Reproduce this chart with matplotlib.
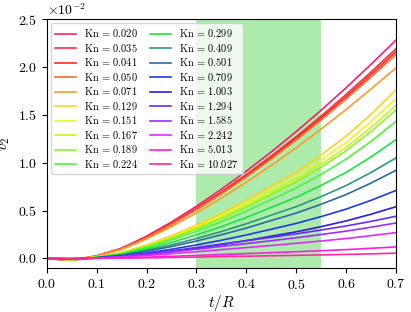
import numpy as np
import matplotlib
matplotlib.use("Agg")
import matplotlib.pyplot as plt

plt.rcParams['font.family'] = 'serif'
plt.rcParams['font.serif'] = ['cmr10']
plt.rcParams['mathtext.fontset'] = 'cm'
plt.rcParams['axes.formatter.use_mathtext'] = True
plt.rcParams['axes.unicode_minus'] = False

# time samples t/R
t = [0.0, 0.05, 0.1, 0.15, 0.2, 0.25, 0.3, 0.35, 0.4, 0.45, 0.5, 0.55, 0.6, 0.65, 0.7]

kn_labels = ["0.020", "0.035", "0.041", "0.050", "0.071", "0.129", "0.151",
             "0.167", "0.189", "0.224", "0.299", "0.409", "0.501", "0.709",
             "1.003", "1.294", "1.585", "2.242", "5.013", "10.027"]

# v2 in units of 1e-2
v2 = [
    [0, -0.020, 0.027, 0.107, 0.233, 0.381, 0.545, 0.723, 0.912, 1.113, 1.325, 1.548, 1.783, 2.027, 2.28],
    [0, -0.020, 0.026, 0.103, 0.223, 0.366, 0.523, 0.694, 0.876, 1.069, 1.272, 1.487, 1.713, 1.947, 2.19],
    [0, -0.019, 0.026, 0.102, 0.220, 0.361, 0.516, 0.685, 0.864, 1.054, 1.255, 1.467, 1.689, 1.920, 2.16],
    [0, -0.019, 0.026, 0.100, 0.217, 0.356, 0.509, 0.675, 0.852, 1.039, 1.238, 1.446, 1.666, 1.894, 2.13],
    [0, -0.018, 0.024, 0.094, 0.203, 0.332, 0.476, 0.631, 0.796, 0.971, 1.156, 1.351, 1.556, 1.769, 1.99],
    [0, -0.014, 0.014, 0.062, 0.141, 0.238, 0.348, 0.472, 0.607, 0.757, 0.906, 1.082, 1.276, 1.505, 1.76],
    [0, -0.013, 0.013, 0.058, 0.134, 0.225, 0.331, 0.448, 0.576, 0.718, 0.860, 1.027, 1.211, 1.428, 1.67],
    [0, -0.013, 0.013, 0.056, 0.128, 0.216, 0.317, 0.429, 0.552, 0.688, 0.824, 0.984, 1.160, 1.368, 1.60],
    [0, -0.012, 0.012, 0.054, 0.124, 0.209, 0.307, 0.415, 0.535, 0.667, 0.798, 0.953, 1.124, 1.325, 1.55],
    [0, -0.011, 0.011, 0.050, 0.114, 0.193, 0.283, 0.383, 0.493, 0.615, 0.736, 0.879, 1.037, 1.223, 1.43],
    [0, -0.010, 0.010, 0.043, 0.099, 0.167, 0.246, 0.332, 0.428, 0.533, 0.639, 0.763, 0.899, 1.060, 1.24],
    [0, -0.008, 0.008, 0.037, 0.084, 0.142, 0.208, 0.281, 0.362, 0.452, 0.541, 0.646, 0.761, 0.898, 1.05],
    [0, -0.007, 0.007, 0.032, 0.074, 0.124, 0.182, 0.247, 0.317, 0.396, 0.474, 0.566, 0.667, 0.787, 0.92],
    [0, -0.006, 0.006, 0.025, 0.057, 0.096, 0.141, 0.190, 0.245, 0.305, 0.366, 0.437, 0.515, 0.607, 0.71],
    [0, -0.004, 0.004, 0.019, 0.043, 0.073, 0.107, 0.145, 0.186, 0.232, 0.278, 0.332, 0.392, 0.462, 0.54],
    [0, -0.004, 0.004, 0.022, 0.048, 0.079, 0.114, 0.150, 0.185, 0.220, 0.257, 0.297, 0.339, 0.387, 0.44],
    [0, -0.004, 0.004, 0.019, 0.041, 0.067, 0.096, 0.126, 0.155, 0.185, 0.216, 0.250, 0.285, 0.326, 0.37],
    [0, -0.003, 0.003, 0.014, 0.030, 0.049, 0.070, 0.092, 0.113, 0.135, 0.158, 0.182, 0.208, 0.238, 0.27],
    [0, -0.001, 0.001, 0.006, 0.013, 0.022, 0.031, 0.041, 0.050, 0.060, 0.070, 0.081, 0.092, 0.106, 0.12],
    [0, -0.001, 0.001, 0.003, 0.006, 0.010, 0.014, 0.019, 0.023, 0.028, 0.032, 0.037, 0.042, 0.048, 0.055],
]

colors = ["#ff1a6e", "#ff2a45", "#ff2a1a", "#ff6a2a", "#ff9a2a", "#ffd21a",
          "#f0f51a", "#c8f51a", "#8cf52a", "#4ef53a", "#1ae63a", "#2a9a7a",
          "#2a6aa5", "#1a3aeb", "#2a1aeb", "#6a2aff", "#a02aff", "#e02aff",
          "#ff1ae6", "#ff2aa0"]

fig = plt.figure(figsize=(4.11, 3.12), dpi=100)
ax = fig.add_axes([0.114, 0.141, 0.8495, 0.798])

ax.axvspan(0.3, 0.55, color='limegreen', alpha=0.4, lw=0)

for vals, lab, c in zip(v2, kn_labels, colors):
    ax.plot(t, np.array(vals) * 1e-2, color=c, lw=1.2, label=r'$\mathrm{Kn}\,=\,%s$' % lab)

ax.set_xlim(0, 0.7)
ax.set_ylim(-0.001, 0.025)
ax.ticklabel_format(axis='y', style='sci', scilimits=(0, 0))
ax.tick_params(labelsize=10)
ax.yaxis.get_offset_text().set_fontsize(10)
ax.set_xlabel(r'$t/R$', fontsize=11, labelpad=1)
ax.set_ylabel(r'$v_2$', fontsize=11)

ax.legend(ncol=2, loc='upper left', fontsize=7.5, labelspacing=0.24,
          columnspacing=1.1, borderaxespad=0.4)

fig.savefig("out.png", dpi=100)
